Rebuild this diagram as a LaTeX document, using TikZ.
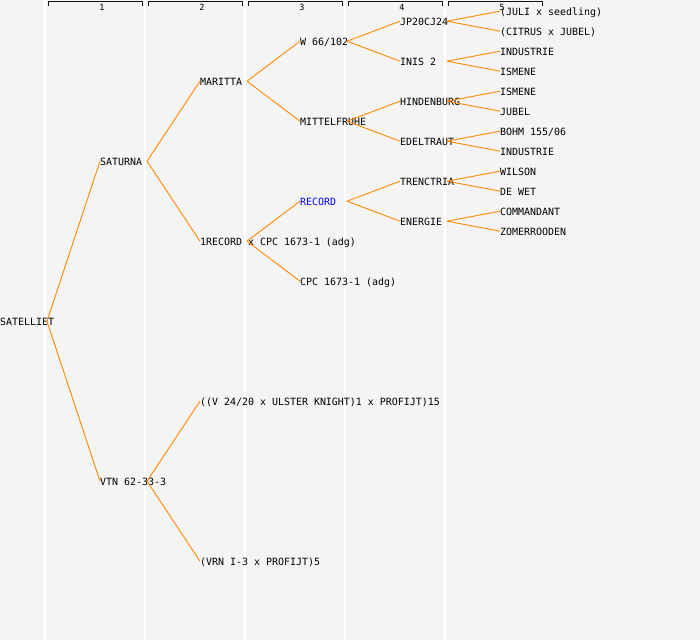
\documentclass[tikz,border=0pt]{standalone}
\usepackage{fontspec}
\newfontfamily\monof{DejaVu Sans Mono}
\definecolor{bg}{HTML}{F4F4F4}
\definecolor{edge}{HTML}{FF8800}
\definecolor{hdr}{HTML}{111111}
\begin{document}
\begin{tikzpicture}[x=1pt,y=-1pt,
  nm/.style={anchor=west,inner sep=0pt,text height=7.3pt,text depth=0pt,font=\monof\fontsize{9.95}{10}\selectfont},
  hl/.style={nm,text=blue},
  lk/.style={draw=edge,line width=0.9pt},
  col/.style={draw=white,line width=1.6pt},
  brk/.style={draw=hdr,line width=0.9pt},
  num/.style={inner sep=0pt,font=\monof\fontsize{8.5}{9}\selectfont}]
\useasboundingbox[fill=bg] (0,0) rectangle (700,640);
% column guides
\foreach \c in {45,145,245,345,445} \draw[col] (\c,0) -- (\c,640);
% header
\foreach \i/\a in {1/48,2/148,3/248,4/348,5/448}{
  \draw[brk] (\a,5.5) -- (\a,1.5) -- ({\a+94},1.5) -- ({\a+94},5.5);
  \node[num] (h\i) at ({\a+54},7) {\i};
}
% generation 0
\node[nm] (sat) at (0,322) {SATELLIET};
% generation 1
\node[nm] (satu) at (100,162) {SATURNA};
\node[nm] (vtn) at (100,482) {VTN 62-33-3};
% generation 2
\node[nm] (mar) at (200,82) {MARITTA};
\node[nm] (rec1) at (200,242) {1RECORD x CPC 1673-1 (adg)};
\node[nm] (v24) at (200,402) {((V 24/20 x ULSTER KNIGHT)1 x PROFIJT)15};
\node[nm] (vrn) at (200,562) {(VRN I-3 x PROFIJT)5};
% generation 3
\node[nm] (w66) at (300,42) {W 66/102};
\node[nm] (mit) at (300,122) {MITTELFRUHE};
\node[hl] (rec) at (300,202) {RECORD};
\node[nm] (cpc) at (300,282) {CPC 1673-1 (adg)};
% generation 4
\node[nm] (jp) at (400,22) {JP20CJ24};
\node[nm] (inis) at (400,62) {INIS 2};
\node[nm] (hin) at (400,102) {HINDENBURG};
\node[nm] (ede) at (400,142) {EDELTRAUT};
\node[nm] (tren) at (400,182) {TRENCTRIA};
\node[nm] (ene) at (400,222) {ENERGIE};
% generation 5
\node[nm] (g1) at (500,12) {(JULI x seedling)};
\node[nm] (g2) at (500,32) {(CITRUS x JUBEL)};
\node[nm] (g3) at (500,52) {INDUSTRIE};
\node[nm] (g4) at (500,72) {ISMENE};
\node[nm] (g5) at (500,92) {ISMENE};
\node[nm] (g6) at (500,112) {JUBEL};
\node[nm] (g7) at (500,132) {BOHM 155/06};
\node[nm] (g8) at (500,152) {INDUSTRIE};
\node[nm] (g9) at (500,172) {WILSON};
\node[nm] (g10) at (500,192) {DE WET};
\node[nm] (g11) at (500,212) {COMMANDANT};
\node[nm] (g12) at (500,232) {ZOMERROODEN};
% connectors
\foreach \p/\c in {sat/satu,sat/vtn,satu/mar,satu/rec1,vtn/v24,vtn/vrn,
  mar/w66,mar/mit,rec1/rec,rec1/cpc,
  w66/jp,w66/inis,mit/hin,mit/ede,rec/tren,rec/ene,
  jp/g1,jp/g2,inis/g3,inis/g4,hin/g5,hin/g6,ede/g7,ede/g8,tren/g9,tren/g10,ene/g11,ene/g12}
  \draw[lk] ([xshift=47pt,yshift=0.8pt]\p.west) -- ([yshift=0.8pt]\c.west);
\end{tikzpicture}
\end{document}
